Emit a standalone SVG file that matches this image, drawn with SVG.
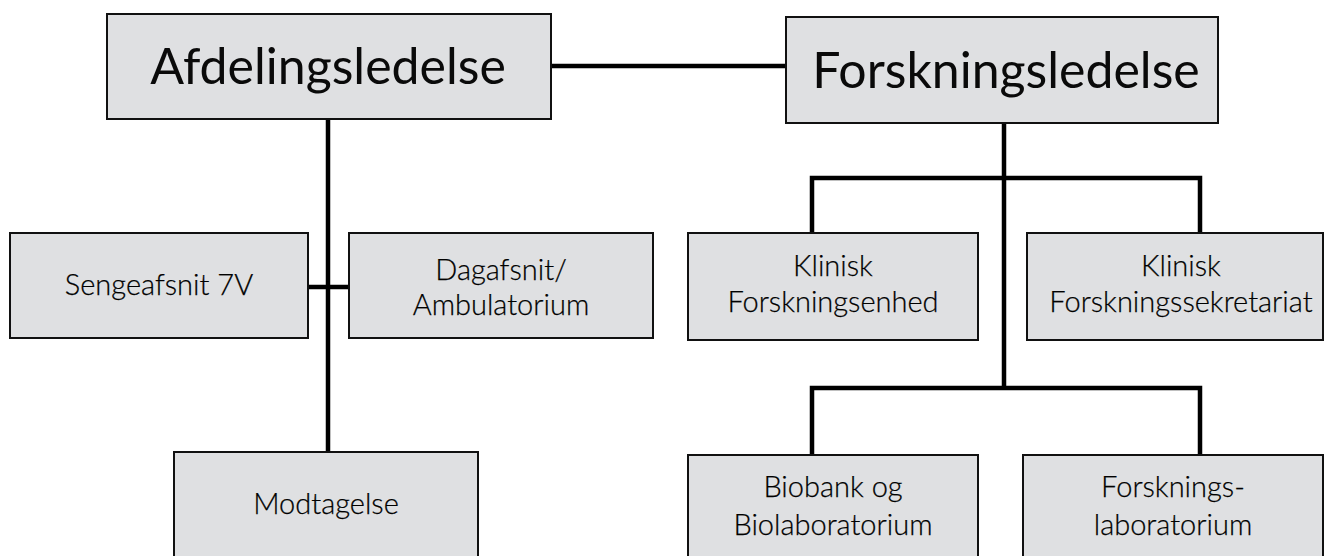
<svg xmlns="http://www.w3.org/2000/svg" width="1325" height="556" viewBox="0 0 1325 556">
<style>
.box{fill:#dfe0e2;stroke:#111;stroke-width:2}
.big{font-family:Lato,"Liberation Sans",sans-serif;font-size:50px;fill:#0a0a0a;text-anchor:middle}
.sm{font-family:Lato,"Liberation Sans",sans-serif;font-size:29px;font-weight:300;fill:#000;stroke:#000;stroke-width:0.25;text-anchor:middle}
.con{fill:none;stroke:#000;stroke-width:4.5}
</style>
<rect width="1325" height="556" fill="#fff"/>
<g id="connectors">
<line class="con" x1="551" y1="66" x2="786" y2="66"/>
<line class="con" x1="328" y1="119" x2="328" y2="452"/>
<line class="con" x1="308" y1="287" x2="349" y2="287"/>
<line class="con" x1="1004" y1="123" x2="1004" y2="388"/>
<polyline class="con" points="812,233 812,178 1200,178 1200,233"/>
<polyline class="con" points="812,455 812,388 1200,388 1200,455"/>
</g>
<g id="afdelingsledelse"><rect class="box" x="107" y="14" width="444" height="105"/><text class="big" x="328" y="84">Afdelingsledelse</text></g>
<g id="forskningsledelse"><rect class="box" x="786" y="17" width="432" height="106"/><text class="big" x="1006" y="88">Forskningsledelse</text></g>
<g id="sengeafsnit"><rect class="box" x="10" y="233" width="298" height="105"/><text class="sm" x="159" y="295">Sengeafsnit 7V</text></g>
<g id="dagafsnit"><rect class="box" x="349" y="233" width="304" height="105"/><text class="sm" x="501" y="280">Dagafsnit/</text><text class="sm" x="501" y="315">Ambulatorium</text></g>
<g id="modtagelse"><rect class="box" x="174" y="452" width="304" height="120"/><text class="sm" x="326" y="514">Modtagelse</text></g>
<g id="klinisk-forskningsenhed"><rect class="box" x="688" y="233" width="290" height="107"/><text class="sm" x="833" y="276">Klinisk</text><text class="sm" x="833" y="312">Forskningsenhed</text></g>
<g id="klinisk-forskningssekretariat"><rect class="box" x="1027" y="233" width="296" height="107"/><text class="sm" x="1181" y="276">Klinisk</text><text class="sm" x="1181" y="312">Forskningssekretariat</text></g>
<g id="biobank"><rect class="box" x="688" y="455" width="290" height="120"/><text class="sm" x="833" y="497">Biobank og</text><text class="sm" x="833" y="535">Biolaboratorium</text></g>
<g id="forskningslaboratorium"><rect class="box" x="1023" y="455" width="300" height="120"/><text class="sm" x="1173" y="497">Forsknings-</text><text class="sm" x="1173" y="535">laboratorium</text></g>
</svg>
